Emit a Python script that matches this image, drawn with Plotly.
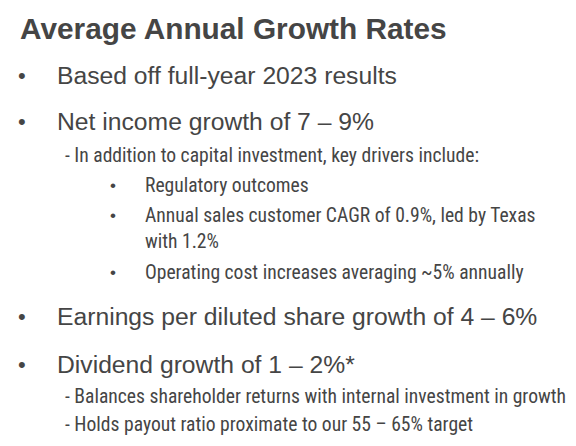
import plotly.graph_objects as go

title = "Average Annual Growth Rates"
main_bullets = [
    "Based off full-year 2023 results",
    "Net income growth of 7 – 9%",
    "Earnings per diluted share growth of 4 – 6%",
    "Dividend growth of 1 – 2%*",
]
main_y = [75, 122, 316, 364]
dash_lines = [
    "- In addition to capital investment, key drivers include:",
    "- Balances shareholder returns with internal investment in growth",
    "- Holds payout ratio proximate to our 55 – 65% target",
]
dash_y = [155, 396, 424]
sub_bullets = [
    ["Regulatory outcomes"],
    ["Annual sales customer CAGR of 0.9%, led by Texas", "with 1.2%"],
    ["Operating cost increases averaging ~5% annually"],
]
sub_y = [186, 215, 272]
sub_line_gap = 26

W, H = 576, 446
OFF = 8  # default page body margin
COLOR = "#454545"
MAIN_FONT = "Liberation Sans, Arial, sans-serif"
NARROW_FONT = "Roboto Condensed, Liberation Sans Narrow, sans-serif"

def px(x):
    return (x - OFF) / (W - OFF)

def py(y):
    return 1 - (y - OFF) / (H - OFF)

def txt(t, x, y, size, family, anchor="left"):
    return dict(text=t, x=px(x), y=py(y), xref="paper", yref="paper", xanchor=anchor, yanchor="middle",
                showarrow=False, align="left", font=dict(family=family, size=size, color=COLOR))

ann = [txt("<b>" + title + "</b>", 18, 28, 29.8, MAIN_FONT)]
for t, y in zip(main_bullets, main_y):
    ann.append(txt("•", 22, y, 22, MAIN_FONT, anchor="center"))
    ann.append(txt(t, 55, y, 24.7, MAIN_FONT))
for t, y in zip(dash_lines, dash_y):
    ann.append(txt(t, 63, y, 19.6, NARROW_FONT))
for lines, y in zip(sub_bullets, sub_y):
    ann.append(txt("•", 113, y, 17, MAIN_FONT, anchor="center"))
    for i, line in enumerate(lines):
        ann.append(txt(line, 143, y + i * sub_line_gap, 19.6, NARROW_FONT))

fig = go.Figure()
fig.update_layout(
    width=W - OFF, height=H - OFF,
    margin=dict(l=0, r=0, t=0, b=0),
    paper_bgcolor="white", plot_bgcolor="white",
    xaxis=dict(visible=False, range=[0, 1]),
    yaxis=dict(visible=False, range=[0, 1]),
    annotations=ann,
    showlegend=False,
)
fig.write_html("out.html")
